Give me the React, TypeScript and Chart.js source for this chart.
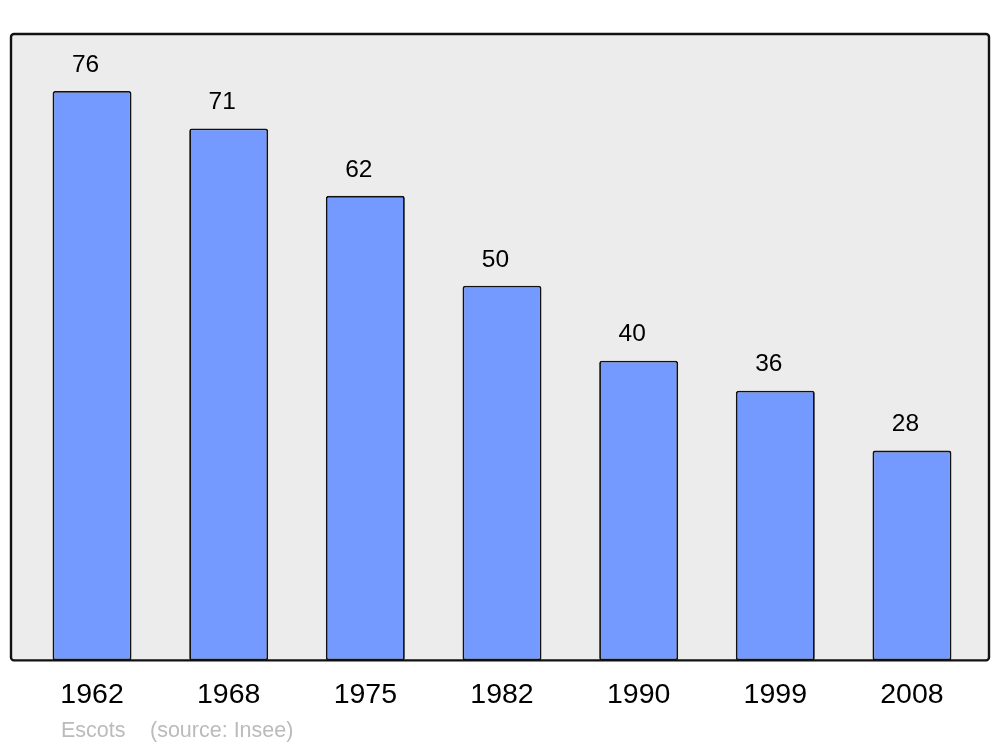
import React, { useEffect, useRef } from "react";
import { Chart, registerables } from "chart.js";

Chart.register(...registerables);

const years = ["1962", "1968", "1975", "1982", "1990", "1999", "2008"];
const population = [76, 71, 62, 50, 40, 36, 28];
const footerName = "Escots";
const footerSource = "(source: Insee)";

const framePlugin = {
  id: "frame",
  beforeDatasetsDraw(chart: any) {
    const { ctx, chartArea } = chart;
    const x0 = chartArea.left - 12.7;
    const x1 = chartArea.right + 8.7;
    const y0 = chartArea.top;
    const y1 = chartArea.bottom;
    ctx.save();
    ctx.beginPath();
    ctx.roundRect(x0, y0, x1 - x0, y1 - y0, 3);
    ctx.fillStyle = "#ececec";
    ctx.fill();
    ctx.restore();
  },
  afterDatasetsDraw(chart: any) {
    const { ctx, chartArea } = chart;
    const x0 = chartArea.left - 12.7;
    const x1 = chartArea.right + 8.7;
    const y0 = chartArea.top;
    const y1 = chartArea.bottom;
    ctx.save();
    ctx.beginPath();
    ctx.roundRect(x0, y0, x1 - x0, y1 - y0, 3);
    ctx.lineWidth = 2.4;
    ctx.strokeStyle = "#111";
    ctx.stroke();

    // value labels
    const meta = chart.getDatasetMeta(0);
    ctx.fillStyle = "#000";
    ctx.font = "24.5px 'Liberation Sans', Arial, sans-serif";
    ctx.textAlign = "center";
    ctx.textBaseline = "middle";
    meta.data.forEach((bar: any, i: number) => {
      ctx.fillText(String(population[i]), bar.x - 6.5, bar.y - 26);
    });

    // footer
    ctx.fillStyle = "#bbbbbb";
    ctx.font = "21.5px 'Liberation Sans', Arial, sans-serif";
    ctx.textAlign = "left";
    ctx.textBaseline = "alphabetic";
    ctx.fillText(footerName, 61, 737);
    ctx.fillText(footerSource, 150, 737);
    ctx.restore();
  },
};

export default function App() {
  const ref = useRef<HTMLCanvasElement | null>(null);
  useEffect(() => {
    if (!ref.current) return;
    const chart = new Chart(ref.current, {
      type: "bar",
      data: {
        labels: years,
        datasets: [
          {
            data: population,
            backgroundColor: "#7499ff",
            borderColor: "#111",
            borderWidth: 1.8,
            borderRadius: 2.5,
            borderSkipped: false,
            barPercentage: 0.578,
            categoryPercentage: 1,
          },
        ],
      },
      options: {
        responsive: false,
        animation: false,
        layout: { padding: { left: 23.7, right: 19.7, top: 34, bottom: 24.4 } },
        plugins: { legend: { display: false }, tooltip: { enabled: false } },
        scales: {
          x: {
            grid: { display: false },
            border: { display: false },
            ticks: {
              color: "#000",
              padding: 10,
              font: { size: 28.5, family: "'Liberation Sans', Arial, sans-serif" },
            },
          },
          y: { display: false, min: 0, max: 83.6 },
        },
      },
      plugins: [framePlugin],
    });
    return () => chart.destroy();
  }, []);
  return (
    <div style={{ position: "absolute", left: 0, top: 0, width: 1000, height: 747, background: "#fff" }}>
      <canvas ref={ref} width={1000} height={747} />
    </div>
  );
}
